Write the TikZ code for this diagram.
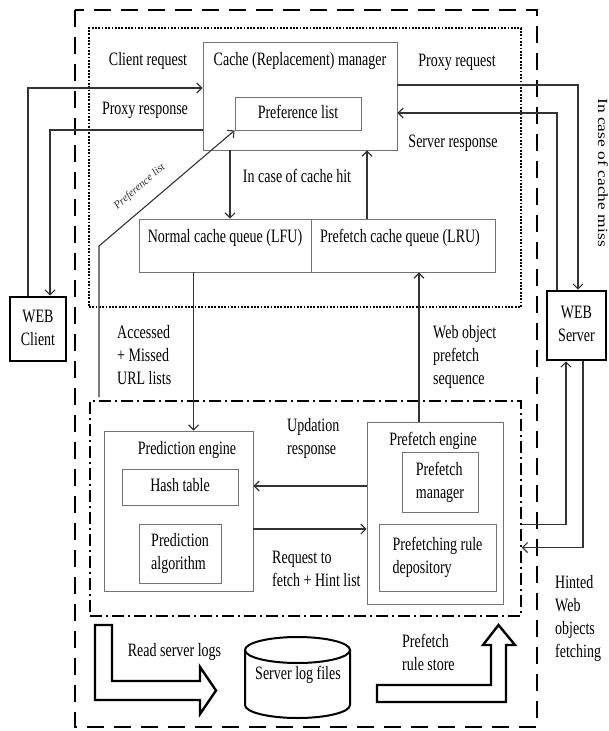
\documentclass[tikz,border=0pt]{standalone}
\usepackage{fontspec}
\setmainfont{Liberation Serif}
\usepackage{graphicx}
\usetikzlibrary{arrows.meta}
\newcommand{\tallt}[2][l]{\scalebox{1}[1.35]{\begin{tabular}{@{}#1@{}}#2\end{tabular}}}

\begin{document}
\begin{tikzpicture}[x=1pt, y=1pt,
  every node/.style={font=\fontsize{14}{17}\selectfont, inner sep=0pt},
  box/.style={draw=black!55, line width=0.9pt},
  webbox/.style={draw=black, line width=2.6pt},
  conn/.style={draw=black!80, line width=1.1pt, -{Straight Barb[length=5pt,width=10pt]}},
  wire/.style={draw=black!80, line width=1.1pt},
  hollow/.style={draw=black, line width=2.4pt, line join=miter},
  zone/.style={line width=2.5pt, dash pattern=on 17pt off 10pt},
  cachezone/.style={draw, line width=1.8pt, dash pattern=on 1.8pt off 1.5pt},
  prefzone/.style={draw, line width=1.5pt, dash pattern=on 12pt off 4pt on 2pt off 4pt},
]
\useasboundingbox (0,0) rectangle (608,-731);
% outer proxy region
\draw[zone] (75,-10) rectangle (537,-727);
\node[cachezone, minimum width=432, minimum height=279] (cachez) at (305,-167.5) {};
\node[prefzone, minimum width=431, minimum height=215] (prefz) at (305.5,-508.5) {};

% cache part
\node[box, minimum width=194, minimum height=108] (cachemgr) at (300,-96) {};
\node (cachetitle) at (300,-61) {\tallt{Cache (Replacement) manager}};
\node[box, minimum width=126, minimum height=33] (preflist) at (298,-113.5) {\tallt{Preference list}};
\node[box, minimum width=172, minimum height=53] (normalq) at (225,-245.5) {};
\node (normalqtext) at (225,-238) {\tallt{Normal cache queue (LFU)}};
\node[box, minimum width=184, minimum height=53] (prefetchq) at (403,-245.5) {};
\node (prefetchqtext) at (400,-238) {\tallt{Prefetch cache queue (LRU)}};

% client and server
\node[webbox, minimum width=56, minimum height=64] (client) at (38,-329) {\tallt[c]{WEB\\Client}};
\node[webbox, minimum width=59, minimum height=69] (server) at (576.5,-325.5) {\tallt[c]{WEB\\Server}};

% prediction engine
\node[box, minimum width=149, minimum height=160] (predeng) at (178.5,-511) {};
\node (predengtext) at (187,-450) {\tallt{Prediction engine}};
\node[box, minimum width=116, minimum height=36] (hashtab) at (180,-487) {\tallt{Hash table}};
\node[box, minimum width=82, minimum height=59] (predalg) at (180,-553.5) {\tallt{Prediction\\algorithm}};

% prefetch engine
\node[box, minimum width=136, minimum height=182] (prefeng) at (435,-513) {};
\node (prefengtext) at (433,-441) {\tallt{Prefetch engine}};
\node[box, minimum width=76, minimum height=60] (prefmgr) at (440,-482) {\tallt{Prefetch\\manager}};
\node[box, minimum width=117, minimum height=67] (ruledep) at (437.5,-557.5) {\tallt{Prefetching rule\\depository}};

% server logs
\draw[hollow, line width=2pt] (297.5,-650) ellipse [x radius=52.5, y radius=13];
\draw[hollow, line width=2pt] (245,-650) -- (245,-705) arc[start angle=180, end angle=360, x radius=52.5, y radius=13] -- (350,-650);
\node (logs) at (298,-675) {\tallt{Server log files}};
\draw[hollow] (95,-625) -- (112,-625) -- (112,-681) -- (200,-681) -- (200,-667) -- (216,-690.5) -- (200,-714) -- (200,-700) -- (95,-700) -- cycle;
\draw[hollow] (377,-685) -- (491,-685) -- (491,-645) -- (483,-645) -- (498.5,-625) -- (515,-645) -- (506,-645) -- (506,-702) -- (377,-702) -- cycle;

% labels
\node (clientreq) at (148,-61) {\tallt{Client request}};
\node (proxyresp) at (145,-110) {\tallt{Proxy response}};
\node (proxyreq) at (457,-62) {\tallt{Proxy request}};
\node (serverresp) at (453,-143) {\tallt{Server response}};
\node (cachehit) at (297,-178) {\tallt{In case of cache hit}};
\node[rotate=-90, anchor=west] (cachemiss) at (603,-98) {\scalebox{1.25}[1]{In case of cache miss}};
\node[anchor=west] (accessed) at (117,-356.5) {\tallt{Accessed\\+ Missed\\URL lists}};
\node[anchor=west] (webobj) at (433,-357) {\tallt{Web object\\prefetch\\sequence}};
\node[anchor=west] (updation) at (287,-438) {\tallt{Updation\\response}};
\node[anchor=west] (request) at (272,-570.5) {\tallt{Request to\\fetch + Hint list}};
\node[anchor=west] (hinted) at (555,-618.5) {\tallt{Hinted\\Web\\objects\\fetching}};
\node (readlogs) at (174.5,-652) {\tallt{Read server logs}};
\node[anchor=west] (rulestore) at (402,-654.5) {\tallt{Prefetch\\rule store}};

% connectors
\draw[conn] ([xshift=-10pt]client.north) |- ([yshift=8pt]cachemgr.west);
\draw[conn] ([yshift=-34pt]cachemgr.west) -| ([xshift=12pt]client.north);
\draw[conn] ([yshift=11pt]cachemgr.east) -| ([xshift=1.5pt]server.north);
\draw[conn] ([xshift=-19.5pt]server.north) |- ([yshift=-17pt]cachemgr.east);
\draw[conn] ([xshift=-70pt]cachemgr.south) -- ([xshift=5pt]normalq.north);
\draw[conn] ([xshift=-36pt]prefetchq.north) -- ([xshift=67pt]cachemgr.south);
\draw[conn] ([xshift=-31.5pt]normalq.south) -- ([xshift=15pt]predeng.north);
\draw[conn] ([xshift=-16pt]prefeng.north) -- ([xshift=16pt]prefetchq.south);
\coordinate (plstart) at (99,-397);
\draw[conn] (plstart) -- (99,-246) -- (preflist.south west)
  node[pos=0.39, sloped, above=13pt, font=\fontsize{11}{12}\selectfont\itshape, text=black!80] (preflbl) {Preference list};
\draw[conn] ([yshift=27pt]prefeng.west) -- ([yshift=25pt]predeng.east);
\draw[conn] ([yshift=-18pt]predeng.east) -- ([yshift=-16pt]prefeng.west);
\draw[conn] ([yshift=-16pt]prefz.east) -| ([xshift=-10.5pt]server.south);
\draw[conn] ([xshift=6.5pt]server.south) |- ([yshift=-39pt]prefz.east);
\end{tikzpicture}
\end{document}
